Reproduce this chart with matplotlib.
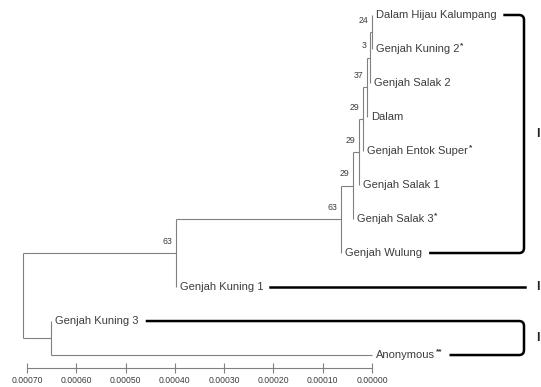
import matplotlib
matplotlib.use("Agg")
import matplotlib.pyplot as plt
from matplotlib.path import Path
from matplotlib.patches import PathPatch

plt.rcParams['font.family'] = ['Liberation Sans', 'DejaVu Sans']

# leaves, top to bottom
taxa = ["Dalam Hijau Kalumpang", "Genjah Kuning 2", "Genjah Salak 2", "Dalam",
        "Genjah Entok Super", "Genjah Salak 1", "Genjah Salak 3", "Genjah Wulung",
        "Genjah Kuning 1", "Genjah Kuning 3", "Anonymous"]
marks = ["", "*", "", "", "*", "", "*", "", "", "", "**"]
leaf_heights = [1e-6, 1e-6, 5e-6, 1.1e-5, 1.8e-5, 2.6e-5, 3.9e-5, 6.3e-5,
                3.98e-4, 6.51e-4, 0.0]

# ladder part: each node joins the cluster above with the next leaf
ladder_heights = [1e-6, 5e-6, 1.1e-5, 1.8e-5, 2.6e-5, 3.9e-5, 6.3e-5, 3.98e-4]
bootstrap = [24, 3, 37, 29, 29, 29, 63, 63]
outgroup_height = 6.51e-4
root_height = 7.08e-4

ticks = [0.0007, 0.0006, 0.0005, 0.0004, 0.0003, 0.0002, 0.0001, 0.0]

# clusters: (first leaf, last leaf, label)
clusters = [(0, 7, "I"), (8, 8, "I"), (9, 10, "I")]

line_col = "#808080"
text_col = "#3c3c3c"

fig = plt.figure(figsize=(5.41, 3.87), dpi=100)
ax = fig.add_axes([0, 0, 1, 1])
ax.set_xlim(7.546e-4, -3.428e-4)
ax.set_ylim(10.94, -0.441)
ax.patch.set_alpha(0)


def branch(parent_h, child_h, child_y):
    ax.plot([parent_h, child_h], [child_y, child_y], color=line_col, lw=0.8,
            solid_capstyle="butt")


def join(h, a, b):
    ax.plot([h, h], [a[1], b[1]], color=line_col, lw=0.8, solid_capstyle="butt")
    branch(h, a[0], a[1])
    branch(h, b[0], b[1])
    return (h, (a[1] + b[1]) / 2)


leaves = [(leaf_heights[i], i) for i in range(len(taxa))]

current = leaves[0]
for k, h in enumerate(ladder_heights):
    current = join(h, current, leaves[k + 1])
    ax.annotate(str(bootstrap[k]), xy=current, xytext=(-2.5, 8.5),
                textcoords="offset points", ha="right", va="center",
                fontsize=6.3, color=text_col)
ingroup = current
outgroup = join(outgroup_height, leaves[9], leaves[10])
join(root_height, ingroup, outgroup)

label_ends = []
for i, name in enumerate(taxa):
    t = ax.annotate(name, xy=leaves[i], xytext=(3, 0), textcoords="offset points",
                    ha="left", va="center", fontsize=8, color=text_col)
    last = t
    if marks[i]:
        last = ax.annotate(marks[i], xy=(1, 1), xycoords=t, xytext=(0.6, -2),
                           textcoords="offset points", ha="left", va="baseline",
                           fontsize=6, fontweight="bold", color=text_col)
    label_ends.append(last)

# scale axis
for s in ["top", "left", "right"]:
    ax.spines[s].set_visible(False)
ax.spines["bottom"].set_position(("data", 10.38))
ax.spines["bottom"].set_bounds(ticks[0], ticks[-1])
ax.spines["bottom"].set_color(line_col)
ax.spines["bottom"].set_linewidth(0.8)
ax.set_xticks(ticks)
ax.set_xticklabels([f"{v:.5f}" for v in ticks])
ax.tick_params(axis="x", direction="inout", length=7, width=0.8, color=line_col,
               labelsize=6.2, labelcolor=text_col, pad=2.5)
ax.yaxis.set_visible(False)

# cluster brackets on a pixel overlay
fig.canvas.draw()
renderer = fig.canvas.get_renderer()
H = 387

ov = fig.add_axes([0, 0, 1, 1])
ov.set_xlim(0, 541)
ov.set_ylim(H, 0)
ov.axis("off")


def leaf_px(i):
    return H - ax.transData.transform(leaves[i])[1]


def end_px(i):
    return label_ends[i].get_window_extent(renderer).x1


x_right = 524
r = 5
for first, last, lab in clusters:
    yt, yb = leaf_px(first), leaf_px(last)
    xt, xb = end_px(first) + 7, end_px(last) + 7
    if first == last:
        ov.plot([xt, x_right + 1], [yt, yt], color="black", lw=1.8)
    else:
        verts = [(xt, yt), (x_right - r, yt), (x_right, yt), (x_right, yt + r),
                 (x_right, yb - r), (x_right, yb), (x_right - r, yb), (xb, yb)]
        codes = [Path.MOVETO, Path.LINETO, Path.CURVE3, Path.CURVE3,
                 Path.LINETO, Path.CURVE3, Path.CURVE3, Path.LINETO]
        ov.add_patch(PathPatch(Path(verts, codes), fill=False, ec="black", lw=1.8))
    ov.text(536, (yt + yb) / 2, lab, fontsize=9, fontweight="bold",
            ha="left", va="center", color="#222222")

fig.savefig("out.png", dpi=100)
